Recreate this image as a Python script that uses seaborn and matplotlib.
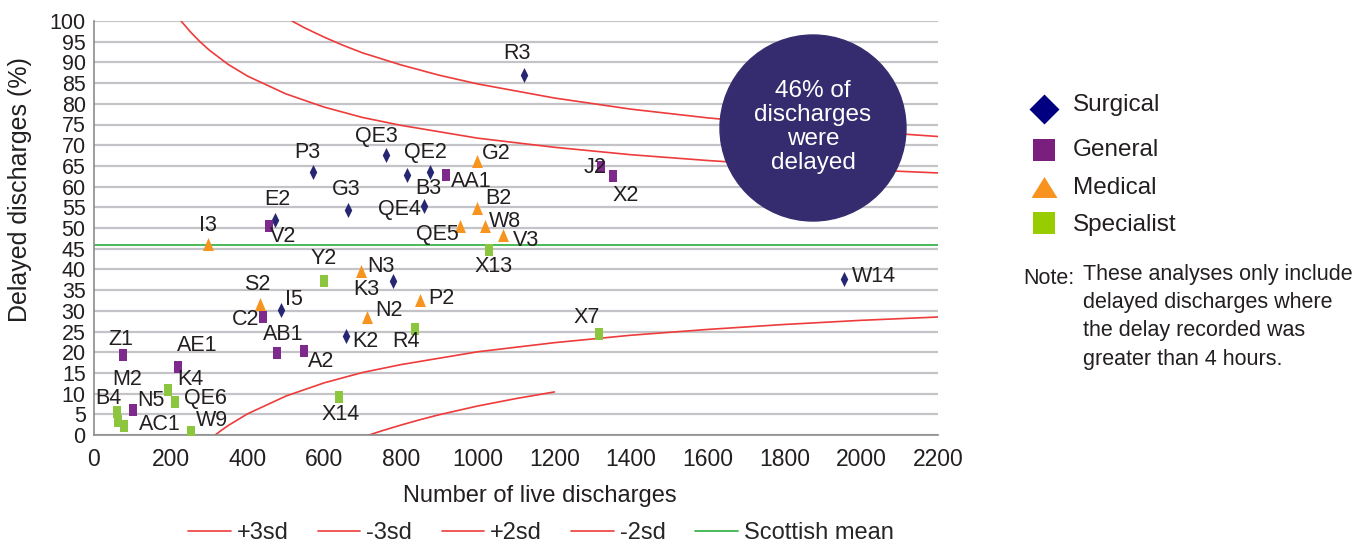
import seaborn as sns
import matplotlib.pyplot as plt
import pandas as pd
import numpy as np
from matplotlib.path import Path
from matplotlib.lines import Line2D
from matplotlib.patches import Ellipse

# hospitals (live discharges, % delayed)
surgical_names = ['R3', 'QE3', 'P3', 'QE2', 'B3', 'G3', 'QE4', 'E2', 'K3', 'I5', 'K2', 'W14']
surgical_x = [1121, 761, 571, 876, 860, 662, 816, 472, 779, 487, 657, 1955]
surgical_y = [86.9, 67.7, 63.6, 63.6, 55.3, 54.4, 62.9, 51.9, 37.1, 30.3, 24.0, 37.6]

general_names = ['AA1', 'J2', 'X2', 'V2', 'C2', 'AB1', 'A2', 'Z1', 'AE1', 'N5']
general_x = [918, 1322, 1353, 456, 441, 477, 547, 76, 219, 102]
general_y = [62.9, 64.8, 62.6, 50.5, 28.4, 19.9, 20.4, 19.4, 16.5, 6.1]

medical_names = ['G2', 'B2', 'W8', 'QE5', 'V3', 'I3', 'N3', 'S2', 'P2', 'N2']
medical_x = [998, 998, 1019, 954, 1066, 297, 696, 433, 850, 712]
medical_y = [66.3, 54.9, 50.5, 50.5, 48.3, 46.1, 39.6, 31.6, 32.5, 28.4]

specialist_names = ['X13', 'Y2', 'R4', 'X7', 'X14', 'K4', 'QE6', 'B4', 'M2', 'AC1', 'W9']
specialist_x = [1030, 600, 837, 1316, 639, 193, 211, 60, 63, 78, 253]
specialist_y = [44.7, 37.1, 25.7, 24.3, 9.2, 10.9, 8.0, 5.6, 3.4, 2.2, 0.7]

# control limits
plus3_n = [516, 530, 550, 600, 650, 700, 800, 900, 1000, 1200, 1400, 1600, 1800, 2000, 2200]
plus3_pct = [100.0, 99.3, 98.3, 96.1, 94.1, 92.3, 89.4, 86.9, 84.8, 81.4, 78.7, 76.6, 74.9, 73.4, 72.1]
minus3_n = [717, 750, 800, 850, 900, 1000, 1100, 1200]
minus3_pct = [0.0, 1.0, 2.4, 3.7, 4.9, 7.0, 8.8, 10.4]
plus2_n = [227, 250, 275, 300, 350, 400, 500, 600, 700, 800, 1000, 1200, 1400, 1600, 1800, 2000, 2200]
plus2_pct = [100.0, 97.5, 95.1, 93.0, 89.5, 86.7, 82.4, 79.2, 76.7, 74.8, 71.7, 69.5, 67.7, 66.3, 65.1, 64.1, 63.3]
minus2_n = [316, 330, 350, 400, 500, 600, 700, 800, 1000, 1200, 1400, 1600, 1800, 2000, 2200]
minus2_pct = [0.0, 1.0, 2.3, 5.1, 9.4, 12.6, 15.1, 17.0, 20.1, 22.3, 24.1, 25.5, 26.7, 27.7, 28.5]
mean_n = [0, 2200]
mean_pct = [45.9, 45.9]

# label offsets in pixels (right, down) from the point
label_off = {
    'R3': (-7, -20), 'QE3': (-10, -16), 'P3': (-6, -17), 'QE2': (-5, -17), 'B3': (4, -16),
    'G3': (-2, -18), 'QE4': (-8, 37), 'E2': (2, -19), 'K3': (-27, 10), 'I5': (13, -8),
    'K2': (19, 8), 'W14': (30, -1), 'AA1': (25, 9), 'J2': (-6, 3), 'X2': (13, 22),
    'V2': (14, 13), 'C2': (-18, 4), 'AB1': (6, -16), 'A2': (17, 13), 'Z1': (-2, -13),
    'AE1': (19, -19), 'N5': (18, -7), 'G2': (19, -5), 'B2': (22, -7), 'W8': (20, -2),
    'QE5': (-23, 11), 'V3': (23, 7), 'I3': (0, -17), 'N3': (20, -3), 'S2': (-3, -18),
    'P2': (21, 0), 'N2': (22, -5), 'X13': (4, 19), 'Y2': (0, -21), 'R4': (-9, 15),
    'X7': (-12, -15), 'X14': (1, 20), 'K4': (22, -8), 'QE6': (30, -1), 'B4': (-9, -11),
    'M2': (9, -39), 'AC1': (36, 1), 'W9': (21, -10),
}

frames = []
for grp, names, xs, ys in [('Surgical', surgical_names, surgical_x, surgical_y),
                           ('General', general_names, general_x, general_y),
                           ('Medical', medical_names, medical_x, medical_y),
                           ('Specialist', specialist_names, specialist_x, specialist_y)]:
    frames.append(pd.DataFrame({'name': names, 'discharges': xs, 'delayed': ys, 'group': grp}))
df = pd.concat(frames, ignore_index=True)

sns.set_style('white')
plt.rcParams['font.family'] = ['Liberation Sans', 'DejaVu Sans']
txt = '#231f20'

fig = plt.figure(figsize=(13.57, 5.43), dpi=100)
ax = fig.add_axes([94 / 1357, 1 - 435 / 543, 844 / 1357, 414 / 543])

# tall narrow marker shapes like the original
diamond = Path([(0, 1), (0.5, 0), (0, -1), (-0.5, 0), (0, 1)])
rect = Path([(-0.33, -0.5), (0.33, -0.5), (0.33, 0.5), (-0.33, 0.5), (-0.33, -0.5)])
tri = Path([(-0.42, -0.5), (0.42, -0.5), (0, 0.5), (-0.42, -0.5)])
style = {
    'Surgical': (diamond, 117, '#262673'),
    'General': (rect, 75, '#7d2a8c'),
    'Medical': (tri, 88, '#f7941d'),
    'Specialist': (rect, 75, '#8cc63f'),
}

red = '#ee3b3b'
for n, p in [(plus3_n, plus3_pct), (minus3_n, minus3_pct), (plus2_n, plus2_pct), (minus2_n, minus2_pct)]:
    sns.lineplot(x=n, y=p, color=red, lw=1.2, ax=ax, sort=False)
sns.lineplot(x=mean_n, y=mean_pct, color='#3cb44b', lw=1.3, ax=ax)

for grp, (mk, s, c) in style.items():
    sub = df[df['group'] == grp]
    sns.scatterplot(data=sub, x='discharges', y='delayed', marker=mk, s=s, color=c,
                    linewidth=0, ax=ax, legend=False, zorder=3)

for _, r in df.iterrows():
    dx, dy = label_off[r['name']]
    ax.annotate(r['name'], (r['discharges'], r['delayed']), xytext=(dx, -dy + 2),
                textcoords='offset pixels', ha='center', va='center', fontsize=15.5, color=txt, zorder=4)

ax.set_xlim(0, 2200)
ax.set_ylim(0, 100)
ax.set_xticks(range(0, 2201, 200))
ax.set_yticks(range(0, 101, 5))
ax.yaxis.grid(True, color='#c4c4c8', lw=1.6)
ax.xaxis.grid(False)
ax.set_axisbelow(True)
for sp in ['top', 'right']:
    ax.spines[sp].set_visible(False)
for sp in ['left', 'bottom']:
    ax.spines[sp].set_color('#8c8c8c')
    ax.spines[sp].set_linewidth(1.2)
ax.tick_params(axis='x', direction='out', length=6, color='#8c8c8c', labelsize=16.5, labelcolor=txt, pad=3)
ax.tick_params(axis='y', direction='out', length=4, color='#8c8c8c', labelsize=15.5, labelcolor=txt, pad=2)
ax.set_xlabel('Number of live discharges', fontsize=17, color=txt)
ax.set_ylabel('')
ax.xaxis.set_label_coords(0.528, -0.12)
fig.text(20 / 1357, 1 - 190 / 543, 'Delayed discharges (%)', rotation=90, fontsize=18,
         color=txt, ha='center', va='center')

# highlight bubble
fig.add_artist(Ellipse((813 / 1357, 1 - 128 / 543), 186 / 1357, 186 / 543,
                       transform=fig.transFigure, color='#342c6e', zorder=5))
fig.text(813 / 1357, 1 - 127 / 543, '46% of\ndischarges\nwere\ndelayed', color='white',
         fontsize=17.5, ha='center', va='center', linespacing=1.12, zorder=6)

# right-hand legend
leg_items = [
    ('Surgical', Path([(0, 1), (1, 0), (0, -1), (-1, 0), (0, 1)]), 21.6, '#000080', 109, 103),
    ('General', 's', 15.8, '#7b1f7f', 150, 148),
    ('Medical', Path([(-0.62, -0.5), (0.62, -0.5), (0, 0.5), (-0.62, -0.5)]), 18.7, '#f7931e', 187, 185),
    ('Specialist', 's', 15.8, '#99cc00', 223, 222),
]
for lab, mk, ms, c, my, ty in leg_items:
    fig.add_artist(Line2D([1044 / 1357], [1 - my / 543], transform=fig.transFigure, marker=mk,
                          markersize=ms, color=c, markeredgewidth=0, linestyle='none'))
    fig.text(1073 / 1357, 1 - ty / 543, lab, fontsize=17.5, color=txt, va='center_baseline')

fig.text(1023 / 1357, 1 - 276 / 543, 'Note:', fontsize=15.5, color=txt, va='center_baseline')
fig.text(1083 / 1357, 1 - 264 / 543,
         'These analyses only include\ndelayed discharges where\nthe delay recorded was\ngreater than 4 hours.',
         fontsize=15.5, color=txt, va='top', linespacing=1.45)

# bottom legend for the lines
handles = [Line2D([], [], color=red, lw=1.2)] * 4 + [Line2D([], [], color='#3cb44b', lw=1.3)]
fig.legend(handles, ['+3sd', '-3sd', '+2sd', '-2sd', 'Scottish mean'], loc='center left',
           bbox_to_anchor=(188 / 1357, 1 - 533 / 543), ncol=5, frameon=False, fontsize=17,
           handlelength=1.8, handletextpad=0.25, columnspacing=1.25, borderaxespad=0, borderpad=0)

fig.savefig('out.png', dpi=100)
